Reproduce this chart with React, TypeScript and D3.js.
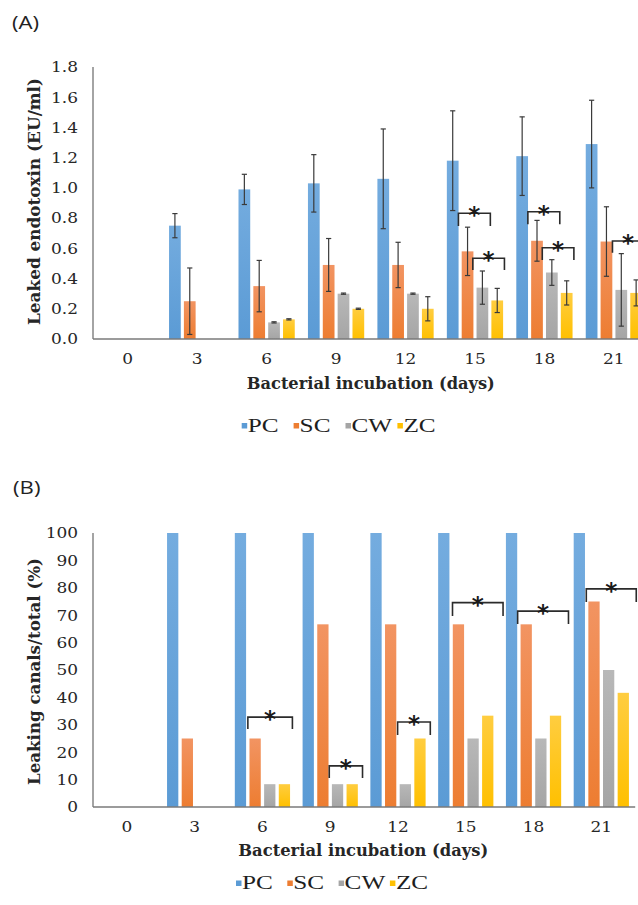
import React from "react";
import * as d3 from "d3";

const days = ["0", "3", "6", "9", "12", "15", "18", "21"];
const series = ["PC", "SC", "CW", "ZC"];
const colors = ["#5B9BD5", "#ED7D31", "#A5A5A5", "#FFC000"];
const lightColors = ["#74ACDF", "#F29462", "#B8B8B8", "#FFCD40"];

// Panel A: leaked endotoxin (EU/ml), mean and error
const endoPC = [0, 0.75, 0.99, 1.03, 1.06, 1.18, 1.21, 1.29];
const endoSC = [0, 0.25, 0.35, 0.49, 0.49, 0.58, 0.65, 0.645];
const endoCW = [0, 0, 0.11, 0.3, 0.3, 0.34, 0.44, 0.325];
const endoZC = [0, 0, 0.13, 0.2, 0.2, 0.255, 0.305, 0.305];
const errPC = [0, 0.08, 0.1, 0.19, 0.33, 0.33, 0.26, 0.29];
const errSC = [0, 0.22, 0.17, 0.175, 0.15, 0.16, 0.135, 0.23];
const errCW = [0, 0, 0.004, 0.004, 0.004, 0.11, 0.085, 0.24];
const errZC = [0, 0, 0.004, 0.004, 0.08, 0.08, 0.08, 0.086];
const endoTicks = [0, 0.2, 0.4, 0.6, 0.8, 1.0, 1.2, 1.4, 1.6, 1.8];

// Panel B: leaking canals / total (%)
const leakPC = [0, 100, 100, 100, 100, 100, 100, 100];
const leakSC = [0, 25, 25, 66.67, 66.67, 66.67, 66.67, 75];
const leakCW = [0, 0, 8.33, 8.33, 8.33, 25, 25, 50];
const leakZC = [0, 0, 8.33, 8.33, 25, 33.33, 33.33, 41.67];
const leakTicks = [0, 10, 20, 30, 40, 50, 60, 70, 80, 90, 100];

// significance brackets: day, start/end in bar-slot units, top and foot values
const bracketsA = [
  { day: "15", from: 0.78, to: 2.93, top: 0.832, foot: 0.748 },
  { day: "15", from: 1.75, to: 3.88, top: 0.534, foot: 0.457 },
  { day: "18", from: 0.78, to: 2.93, top: 0.842, foot: 0.759 },
  { day: "18", from: 1.75, to: 3.88, top: 0.604, foot: 0.523 },
  { day: "21", from: 1.8, to: 3.9, top: 0.649, foot: 0.57 },
];
const bracketsB = [
  { day: "6", from: 0.89, to: 3.93, top: 32.8, foot: 28.5 },
  { day: "9", from: 1.82, to: 4.09, top: 15.0, foot: 10.6 },
  { day: "12", from: 1.86, to: 4.09, top: 31.0, foot: 26.3 },
  { day: "15", from: 0.98, to: 4.43, top: 74.6, foot: 69.7 },
  { day: "18", from: 0.8, to: 4.27, top: 71.5, foot: 66.8 },
  { day: "21", from: 0.86, to: 4.27, top: 79.6, foot: 74.8 },
];

const SERIF = "'DejaVu Serif', serif";
const TIMES = "'Liberation Serif', 'Times New Roman', serif";

function T({ x, y, sx = 1, anchor = "start", size, family, weight = "normal", fill = "#262626", children }: any) {
  return (
    <text
      transform={`translate(${x},${y}) scale(${sx},1)`}
      textAnchor={anchor}
      fontSize={size}
      fontFamily={family}
      fontWeight={weight}
      fill={fill}
    >
      {children}
    </text>
  );
}

function Panel({ cfg }: any) {
  const { label, labelX, labelY, values, errors, ticks, yDomain, yRange, xRange, outerPad, innerPad,
    tickFmt, yTitle, yTitleCenter, yTitleLen, xTickBaseline, xTitleX, xTitleY, xTitleLen,
    brackets, legendX, legendPitch, legendY, idp } = cfg;
  const y = d3.scaleLinear().domain(yDomain).range(yRange);
  const x0 = d3.scaleBand().domain(days).range(xRange).paddingInner(outerPad).paddingOuter(outerPad / 2);
  const x1 = d3.scaleBand().domain(series).range([0, x0.bandwidth()]).paddingInner(innerPad);
  const bw = x1.bandwidth();
  const axisX = xRange[0];
  return (
    <g>
      <T x={labelX} y={labelY} sx={1.2} size={18.5} family="'Open Sans', sans-serif" fill="#222">{label}</T>
      {/* bars */}
      {days.map((d, i) => (
        <g key={d}>
          {series.map((s, j) => {
            const v = values[j][i];
            if (!(v > 0)) return null;
            const bx = (x0(d) as number) + (x1(s) as number);
            return (
              <rect key={s} x={bx} y={y(v)} width={bw} height={y(0) - y(v)} fill={`url(#${idp}g${j})`} />
            );
          })}
        </g>
      ))}
      {/* error bars */}
      {errors &&
        days.map((d, i) =>
          series.map((s, j) => {
            const v = values[j][i];
            const e = errors[j][i];
            if (!(v > 0) || !(e > 0)) return null;
            const cx = (x0(d) as number) + (x1(s) as number) + bw / 2;
            const yt = y(v + e);
            const yb = y(Math.max(0, v - e));
            return (
              <g key={d + s} stroke="#3a3a3a" strokeWidth={1.2}>
                <line x1={cx} x2={cx} y1={yt} y2={yb} />
                <line x1={cx - 2.6} x2={cx + 2.6} y1={yt} y2={yt} />
                <line x1={cx - 2.6} x2={cx + 2.6} y1={yb} y2={yb} />
              </g>
            );
          })
        )}
      {/* axes */}
      <line x1={axisX} x2={axisX} y1={y(yDomain[1])} y2={y(0)} stroke="#595959" strokeWidth={1.1} />
      <line x1={axisX} x2={xRange[1]} y1={y(0)} y2={y(0)} stroke="#7a7a7a" strokeWidth={1.4} />
      {ticks.map((t: number) => (
        <T key={t} x={axisX - 15} y={y(t) + 5.3} sx={1.17} anchor="end" size={14.5} family={SERIF}>
          {tickFmt(t)}
        </T>
      ))}
      {days.map((d) => (
        <T key={d} x={(x0(d) as number) + x0.bandwidth() / 2} y={xTickBaseline} sx={1.17} anchor="middle" size={14.5} family={SERIF}>
          {d}
        </T>
      ))}
      <text
        x={xTitleX}
        y={xTitleY}
        textAnchor="middle"
        fontFamily={SERIF}
        fontWeight="bold"
        fontSize={16}
        fill="#262626"
        textLength={xTitleLen}
        lengthAdjust="spacingAndGlyphs"
      >
        Bacterial incubation (days)
      </text>
      <text
        transform={`translate(40,${yTitleCenter}) rotate(-90)`}
        textAnchor="middle"
        fontFamily={SERIF}
        fontWeight="bold"
        fontSize={16.5}
        fill="#262626"
        textLength={yTitleLen}
        lengthAdjust="spacingAndGlyphs"
      >
        {yTitle}
      </text>
      {/* brackets */}
      {brackets.map((b: any, k: number) => {
        const gx = x0(b.day) as number;
        const xa = gx + b.from * x1.step();
        const xb = gx + b.to * x1.step();
        const yt = y(b.top);
        const yf = y(b.foot);
        return (
          <g key={k}>
            <path d={`M${xa},${yf}V${yt}H${xb}V${yf}`} fill="none" stroke="#2b2b2b" strokeWidth={1.6} />
            <text x={(xa + xb) / 2} y={yt - 3 + 13} textAnchor="middle" fontFamily="'DejaVu Sans', sans-serif" fontWeight="bold" fontSize={23} fill="#1a1a1a">
              *
            </text>
          </g>
        );
      })}
      {/* legend */}
      {series.map((s, j) => (
        <g key={s}>
          <rect x={legendX + j * legendPitch} y={legendY - 8.5} width={5.5} height={5.5} fill={colors[j]} />
          <T x={legendX + j * legendPitch + 6} y={legendY} sx={1.33} size={19} family={TIMES} fill="#1e1e1e">
            {s}
          </T>
        </g>
      ))}
    </g>
  );
}

export default function App() {
  const cfgA = {
    idp: "a",
    label: "(A)",
    labelX: 12,
    labelY: 29,
    values: [endoPC, endoSC, endoCW, endoZC],
    errors: [errPC, errSC, errCW, errZC],
    ticks: endoTicks,
    yDomain: [0, 1.8],
    yRange: [339, 67],
    xRange: [93, 648.6],
    outerPad: 0.19,
    innerPad: 0.21,
    tickFmt: (t: number) => t.toFixed(1),
    yTitle: "Leaked endotoxin (EU/ml)",
    yTitleCenter: 201.5,
    yTitleLen: 247,
    xTickBaseline: 364.3,
    xTitleX: 370.8,
    xTitleY: 389,
    xTitleLen: 248,
    brackets: bracketsA,
    legendX: 241.7,
    legendPitch: 51.9,
    legendY: 431.5,
  };
  const cfgB = {
    idp: "b",
    label: "(B)",
    labelX: 13,
    labelY: 494,
    values: [leakPC, leakSC, leakCW, leakZC],
    errors: null,
    ticks: leakTicks,
    yDomain: [0, 100],
    yRange: [807, 533],
    xRange: [93, 635.2],
    outerPad: 0.185,
    innerPad: 0.23,
    tickFmt: (t: number) => String(t),
    yTitle: "Leaking canals/total (%)",
    yTitleCenter: 671.5,
    yTitleLen: 227,
    xTickBaseline: 832.3,
    xTitleX: 363.3,
    xTitleY: 856,
    xTitleLen: 250,
    brackets: bracketsB,
    legendX: 236,
    legendPitch: 51.3,
    legendY: 889,
  };
  return (
    <svg width={638} height={905} style={{ position: "absolute", left: 0, top: 0, background: "#fff" }}>
      <defs>
        {["a", "b"].map((p) =>
          colors.map((c, j) => (
            <linearGradient key={p + j} id={`${p}g${j}`} x1="0" y1="0" x2="0" y2="1">
              <stop offset="0%" stopColor={lightColors[j]} />
              <stop offset="100%" stopColor={c} />
            </linearGradient>
          ))
        )}
      </defs>
      <rect width={638} height={905} fill="#fff" />
      <Panel cfg={cfgA} />
      <Panel cfg={cfgB} />
    </svg>
  );
}
